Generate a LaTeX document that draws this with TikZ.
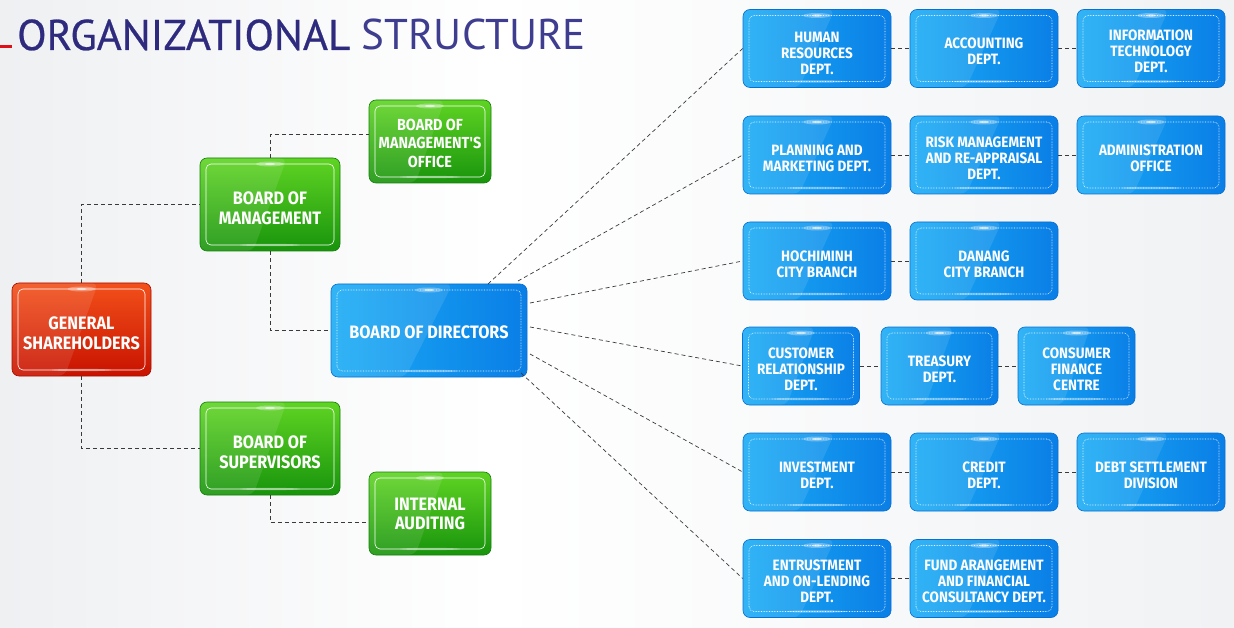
\documentclass[tikz,border=0pt]{standalone}
\usepackage{fontspec}
\usetikzlibrary{calc}
\newfontfamily\titlefont{PT Sans}
\newfontfamily\titleboldfont{PT Sans}[FakeBold=0.6]
\newfontfamily\boxfont{Fira Sans}[FakeStretch=0.9]
\definecolor{navy}{HTML}{2E2A7E}
\definecolor{navyL}{HTML}{3F3D8F}
\definecolor{bgl}{HTML}{DADDE2}
\definecolor{bgr}{HTML}{E4E7EB}
\definecolor{blueL}{HTML}{1AACF5}
\definecolor{blueD}{HTML}{0A7EE6}
\definecolor{blueE}{HTML}{0A6FD0}
\definecolor{greenL}{HTML}{5FD423}
\definecolor{greenD}{HTML}{18940C}
\definecolor{greenE}{HTML}{147F0A}
\definecolor{redL}{HTML}{F2501A}
\definecolor{redD}{HTML}{C81200}
\definecolor{redE}{HTML}{A80E00}
\definecolor{linec}{HTML}{3A3A3A}
\definecolor{accent}{HTML}{E0101A}
\pgfdeclarehorizontalshading{bgshade}{100bp}{color(0bp)=(bgl); color(45bp)=(white); color(100bp)=(bgr)}
\newcommand\boxdeco[1]{%
  \fill[white,opacity=0.1] (path picture bounding box.north west) -- ($(path picture bounding box.north west)!0.62!(path picture bounding box.north east)$) -- ($(path picture bounding box.south west)!0.38!(path picture bounding box.south east)$) -- (path picture bounding box.south west) -- cycle;
  \fill[white,opacity=0.3] ($(path picture bounding box.north)+(0,-6pt)$) ellipse (14pt and 2.5pt);
  \fill[white,opacity=0.6] ($(path picture bounding box.north)+(0,-6pt)$) ellipse (5pt and 1.2pt);
  \fill[white,opacity=0.35] ($(path picture bounding box.south)+(0,6pt)$) ellipse (30pt and 1.2pt);
  \draw[white,#1,line width=0.6pt,rounded corners=5pt] ($(path picture bounding box.south west)+(6pt,6pt)$) rectangle ($(path picture bounding box.north east)+(-6pt,-6pt)$);
}
% text block lowered by #1 without changing its size
\newcommand\bt[2][5pt]{\raisebox{-#1}[\height][\depth]{\begin{tabular}{@{}c@{}}#2\end{tabular}}}
\tikzset{
  box/.style={rounded corners=7pt, text=white, inner sep=0pt, line width=0.6pt},
  bluebox/.style={box, left color=blueL, right color=blueD, draw=blueE, path picture={\boxdeco{densely dotted}}},
  greenbox/.style={box, top color=greenL, bottom color=greenD, draw=greenE, path picture={\boxdeco{solid}}},
  redbox/.style={box, top color=redL, bottom color=redD, draw=redE, path picture={\boxdeco{solid}}},
  rbox/.style={bluebox, minimum width=148pt, minimum height=78pt, font=\boxfont\bfseries\fontsize{15}{16}\selectfont},
  nbox/.style={rbox, minimum width=117pt},
  bigfont/.style={font=\boxfont\bfseries\fontsize{18}{20}\selectfont},
  conn/.style={draw=linec, dash pattern=on 4pt off 3pt, line width=0.7pt}
}
\begin{document}
\begin{tikzpicture}[x=1pt,y=-1pt]
\useasboundingbox (0,0) rectangle (1234,628);
\shade[shading=bgshade] (0,0) rectangle (1234,628);
% title
\draw[accent, line width=3pt] (0,47) -- (12,47);
\node[anchor=base west, inner sep=0pt, text=navy, font=\fontsize{43}{43}\selectfont] (title) at (17,50) {\titleboldfont ORGANIZATIONAL \titlefont\textcolor{navyL}{STRUCTURE}};
% left part
\node[redbox, bigfont, minimum width=139pt, minimum height=93pt] (gs) at (81.5,329.5) {\bt[6.5pt]{GENERAL\\SHAREHOLDERS}};
\node[greenbox, bigfont, minimum width=140pt, minimum height=93pt] (bom) at (270,204.5) {\bt[6.5pt]{BOARD OF\\MANAGEMENT}};
\node[greenbox, font=\boxfont\bfseries\fontsize{16}{18.5}\selectfont, minimum width=122pt, minimum height=83pt] (bomo) at (430,141.5) {\bt[3.5pt]{BOARD OF\\MANAGEMENT'S\\OFFICE}};
\node[greenbox, bigfont, minimum width=140pt, minimum height=93pt] (bos) at (270,448.5) {\bt[5.5pt]{BOARD OF\\SUPERVISORS}};
\node[greenbox, font=\boxfont\bfseries\fontsize{18}{19}\selectfont, minimum width=122pt, minimum height=83pt] (ia) at (430,513.5) {\bt[2.5pt]{INTERNAL\\AUDITING}};
\node[bluebox, bigfont, minimum width=196pt, minimum height=93pt] (bod) at (429,330.5) {\bt[4pt]{BOARD OF DIRECTORS}};
% right part
\node[rbox] (hr) at (817,48.5) {\bt[7pt]{HUMAN\\RESOURCES\\DEPT.}};
\node[rbox] (acc) at (984,48.5) {\bt{ACCOUNTING\\DEPT.}};
\node[rbox] (it) at (1151,48.5) {\bt{INFORMATION\\TECHNOLOGY\\DEPT.}};
\node[rbox] (pm) at (817,155) {\bt{PLANNING AND\\MARKETING DEPT.}};
\node[rbox] (risk) at (984,155) {\bt{RISK MANAGEMENT\\AND RE-APPRAISAL\\DEPT.}};
\node[rbox] (adm) at (1151,155) {\bt{ADMINISTRATION\\OFFICE}};
\node[rbox] (hcm) at (817,261) {\bt{HOCHIMINH\\CITY BRANCH}};
\node[rbox] (dn) at (984,261) {\bt{DANANG\\CITY BRANCH}};
\node[nbox] (cr) at (801,366) {\bt{CUSTOMER\\RELATIONSHIP\\DEPT.}};
\node[nbox] (tr) at (939.5,366) {\bt{TREASURY\\DEPT.}};
\node[nbox] (cf) at (1076.5,366) {\bt{CONSUMER\\FINANCE\\CENTRE}};
\node[rbox] (inv) at (817,472) {\bt{INVESTMENT\\DEPT.}};
\node[rbox] (cre) at (984,472) {\bt{CREDIT\\DEPT.}};
\node[rbox] (debt) at (1151,472) {\bt{DEBT SETTLEMENT\\DIVISION}};
\node[rbox] (ent) at (817,578.5) {\bt{ENTRUSTMENT\\AND ON-LENDING\\DEPT.}};
\node[rbox] (fund) at (984,578.5) {\bt{FUND ARANGEMENT\\AND FINANCIAL\\CONSULTANCY DEPT.}};
% connectors left
\draw[conn] (gs.north) |- (bom.west);
\draw[conn] (gs.south) |- (bos.west);
\draw[conn] (bom.south) |- (bod.west);
\draw[conn] (bom.north) |- ([yshift=7pt]bomo.west);
\draw[conn] (bos.south) |- ([yshift=-9pt]ia.west);
% fan from board of directors
\coordinate (f1) at (488,284);
\coordinate (f2) at (518,281);
\coordinate (f3) at (530,303);
\coordinate (f4) at (530,327);
\coordinate (f5) at (530,354);
\coordinate (f6) at (521,373);
\draw[conn] (f1) -- (hr.west);
\draw[conn] (f2) -- (pm.west);
\draw[conn] (f3) -- (hcm.west);
\draw[conn] (f4) -- (cr.west);
\draw[conn] (f5) -- (inv.west);
\draw[conn] (f6) -- (ent.west);
% row connectors
\draw[conn] (hr) -- (acc);
\draw[conn] (acc) -- (it);
\draw[conn] (pm) -- (risk);
\draw[conn] (risk) -- (adm);
\draw[conn] (hcm) -- (dn);
\draw[conn] (cr) -- (tr);
\draw[conn] (tr) -- (cf);
\draw[conn] (inv) -- (cre);
\draw[conn] (cre) -- (debt);
\draw[conn] (ent) -- (fund);
\end{tikzpicture}
\end{document}
